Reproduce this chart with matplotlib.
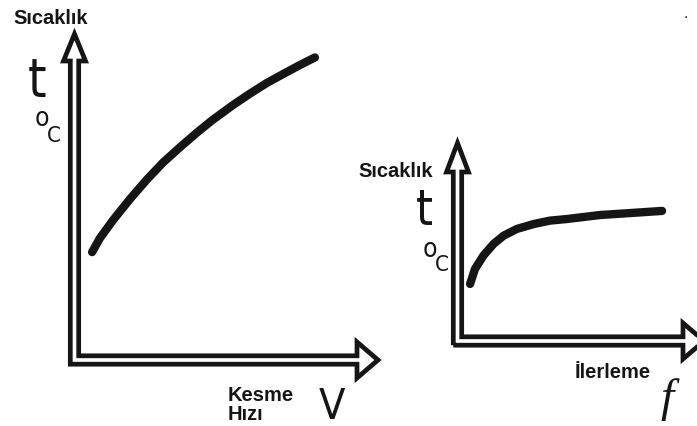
import matplotlib
matplotlib.use("Agg")
import matplotlib.pyplot as plt
from matplotlib.patches import Polygon
from matplotlib.transforms import IdentityTransform

W, H = 697, 427

# Kesme hizi (V) -> sicaklik (t), arbitrary units 0..10
v_hiz = [0.58, 0.84, 1.27, 1.83, 2.39, 2.92, 3.48, 4.04, 4.53, 5.22, 5.78,
         6.34, 6.87, 7.43, 7.92]
t_hiz = [3.31, 3.74, 4.29, 4.94, 5.54, 6.06, 6.53, 6.98, 7.35, 7.82, 8.17,
         8.50, 8.77, 9.05, 9.28]

# Ilerleme (f) -> sicaklik (t)
f_il = [0.51, 0.71, 1.05, 1.46, 1.87, 2.41, 3.10, 3.75, 4.43, 5.76, 6.98, 8.30]
t_il = [2.88, 3.64, 4.31, 4.90, 5.32, 5.66, 5.91, 6.08, 6.16, 6.36, 6.46, 6.57]

ink = "#151515"


def px(x, y):
    # pixel position (y down) -> figure fraction
    return x / W, 1 - y / H


def panel(fig, origin, tip_x, tip_y):
    # axes whose (0,0) is the arrow corner and (10,10) the arrow tips
    x0, y0 = origin
    ax = fig.add_axes([x0 / W, 1 - y0 / H, (tip_x - x0) / W, (y0 - tip_y) / H])
    ax.set_xlim(0, 10)
    ax.set_ylim(0, 10)
    ax.axis("off")
    return ax


def double_arrows(fig, ax, h, hw_v, hl_v, hw_h, hl_h):
    # outlined (hollow) axis arrows, drawn in display pixels
    x0, y0 = ax.transAxes.transform((0, 0))
    xt, yt = ax.transAxes.transform((1, 1))
    pts = [
        (x0 - h, y0 - h), (x0 - h, yt - hl_v), (x0 - hw_v, yt - hl_v), (x0, yt),
        (x0 + hw_v, yt - hl_v), (x0 + h, yt - hl_v), (x0 + h, y0 + h),
        (xt - hl_h, y0 + h), (xt - hl_h, y0 + hw_h), (xt, y0),
        (xt - hl_h, y0 - hw_h), (xt - hl_h, y0 - h),
    ]
    poly = Polygon(pts, closed=True, fill=False, edgecolor=ink, lw=3.4,
                   joinstyle="miter", transform=IdentityTransform())
    fig.add_artist(poly)


fig = plt.figure(figsize=(W / 100, H / 100), dpi=100)
fig.patch.set_facecolor("white")

bold = dict(family=["Liberation Sans", "DejaVu Sans"], weight="bold",
            fontsize=14.5, color=ink)
narrow = dict(family=["DejaVu Sans"], stretch="condensed", color=ink)

# left panel: temperature vs cutting speed
ax1 = panel(fig, (74.5, 361), 378, 35)
double_arrows(fig, ax1, h=4.2, hw_v=11, hl_v=27, hw_h=18, hl_h=21)
ax1.plot(v_hiz, t_hiz, color=ink, lw=6.0, solid_capstyle="round",
         solid_joinstyle="round")

# right panel: temperature vs feed
ax2 = panel(fig, (457.5, 342), 704, 144)
double_arrows(fig, ax2, h=4.2, hw_v=11, hl_v=29, hw_h=18, hl_h=21)
ax2.plot(f_il, t_il, color=ink, lw=6.0, solid_capstyle="round",
         solid_joinstyle="round")

# labels, left
fig.text(*px(13, 18), "Sıcaklık", ha="left", va="center", **bold)
fig.text(*px(37.5, 96), "t", ha="center", va="baseline", fontsize=38, **narrow)
fig.text(*px(42, 119), "o", ha="center", va="center", fontsize=19, **narrow)
fig.text(*px(54, 136), "C", ha="center", va="center", fontsize=16, **narrow)
fig.text(*px(228, 401), "Kesme", ha="left", va="baseline", **bold)
fig.text(*px(228, 420), "Hızı", ha="left", va="baseline", **bold)
fig.text(*px(332, 419), "V", ha="center", va="baseline", fontsize=31, **narrow)

# labels, right
fig.text(*px(358, 172), "Sıcaklık", ha="left", va="center", **bold)
fig.text(*px(424, 225), "t", ha="center", va="baseline", fontsize=35, **narrow)
fig.text(*px(430, 250), "o", ha="center", va="center", fontsize=19, **narrow)
fig.text(*px(442, 265), "C", ha="center", va="center", fontsize=16, **narrow)
fig.text(*px(575, 378), "İlerleme", ha="left", va="baseline", **bold)
fig.text(*px(667, 400), "f", ha="center", va="center",
         family=["Liberation Serif", "DejaVu Serif"], style="italic",
         fontsize=34, color=ink)

# small speck top right, as in the scan
fig.text(*px(686, 14), ".", ha="center", va="center", fontsize=10, color=ink)

fig.savefig("out.png", dpi=100)
